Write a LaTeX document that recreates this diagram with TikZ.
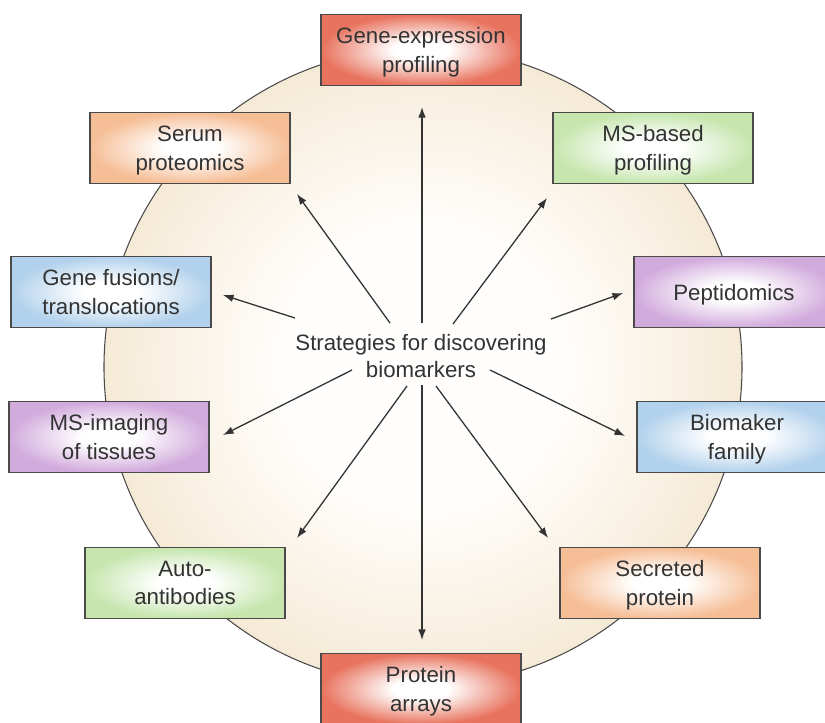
\documentclass[tikz,border=0pt]{standalone}
\usepackage{fontspec}
\setmainfont{Liberation Sans}
\usetikzlibrary{arrows.meta}

\definecolor{inkgray}{HTML}{333333}
\definecolor{rimgray}{HTML}{4A4A4A}
\definecolor{discbeige}{HTML}{F5EAD6}
\definecolor{discwhite}{HTML}{FFFEFC}
\definecolor{redbox}{HTML}{E8735E}
\definecolor{orangebox}{HTML}{F6BE96}
\definecolor{greenbox}{HTML}{C6E6AE}
\definecolor{bluebox}{HTML}{B2D1EC}
\definecolor{purplebox}{HTML}{D2ABDD}
\colorlet{boxtint}{redbox}

\pgfdeclareradialshading{discglow}{\pgfpoint{0bp}{0bp}}{color(0bp)=(discwhite);
  color(11bp)=(discwhite); color(25bp)=(discbeige); color(50bp)=(discbeige)}
\pgfdeclareradialshading[boxtint]{boxglow}{\pgfpoint{0bp}{0bp}}{color(0bp)=(white);
  color(7bp)=(white); color(25bp)=(boxtint); color(50bp)=(boxtint)}

\begin{document}
\begin{tikzpicture}[x=0.03cm, y=-0.03cm,
  box/.style={draw=rimgray, line width=1.2pt, minimum width=6cm, minimum height=2.13cm,
    align=center, shade, shading=boxglow, /utils/exec={\colorlet{boxtint}{#1}},
    text=inkgray, text depth=-2pt, font=\fontsize{19}{24.3}\selectfont},
  arr/.style={draw=inkgray, line width=1.1pt, -{Latex[length=9pt,width=6.5pt]}}]
\clip (0,0) rectangle (825,722);

% the disc behind everything
\shadedraw[draw=rimgray, line width=0.9pt, shading=discglow] (423,367) circle (9.57cm);

\node[text=inkgray, align=center, font=\fontsize{19}{23.5}\selectfont] (ctr) at (421,356)
  {Strategies for discovering\\biomarkers};

\node[box=redbox] (gene) at (421,50) {Gene-expression\\profiling};
\node[box=orangebox] (serum) at (190,148) {Serum\\proteomics};
\node[box=greenbox] (msbased) at (653,148) {MS-based\\profiling};
\node[box=bluebox] (fusions) at (111,292) {Gene fusions/\\translocations};
\node[box=purplebox] (peptid) at (734,292) {Peptidomics};
\node[box=purplebox] (imaging) at (109,437) {MS-imaging\\of tissues};
\node[box=bluebox] (family) at (737,437) {Biomaker\\family};
\node[box=greenbox] (auto) at (185,583) {Auto-\\antibodies};
\node[box=orangebox] (secreted) at (660,583) {Secreted\\protein};
\node[box=redbox] (arrays) at (421,689) {Protein\\arrays};

% arrow ends
\coordinate (gene-from) at (422,323);
\coordinate (gene-to) at (422,107);
\coordinate (serum-from) at (390,323);
\coordinate (serum-to) at (297,194);
\coordinate (msbased-from) at (453,324);
\coordinate (msbased-to) at (547,198);
\coordinate (fusions-from) at (295,318);
\coordinate (fusions-to) at (223,295);
\coordinate (peptid-from) at (551,319);
\coordinate (peptid-to) at (623,293);
\coordinate (imaging-from) at (352,370);
\coordinate (imaging-to) at (223,435);
\coordinate (family-from) at (490,370);
\coordinate (family-to) at (625,436);
\coordinate (auto-from) at (407,386);
\coordinate (auto-to) at (297,538);
\coordinate (secreted-from) at (436,386);
\coordinate (secreted-to) at (548,538);
\coordinate (arrays-from) at (422,385);
\coordinate (arrays-to) at (422,640);

\draw[arr] (gene-from) -- (gene-to);
\draw[arr] (serum-from) -- (serum-to);
\draw[arr] (msbased-from) -- (msbased-to);
\draw[arr] (fusions-from) -- (fusions-to);
\draw[arr] (peptid-from) -- (peptid-to);
\draw[arr] (imaging-from) -- (imaging-to);
\draw[arr] (family-from) -- (family-to);
\draw[arr] (auto-from) -- (auto-to);
\draw[arr] (secreted-from) -- (secreted-to);
\draw[arr] (arrays-from) -- (arrays-to);
\end{tikzpicture}
\end{document}
